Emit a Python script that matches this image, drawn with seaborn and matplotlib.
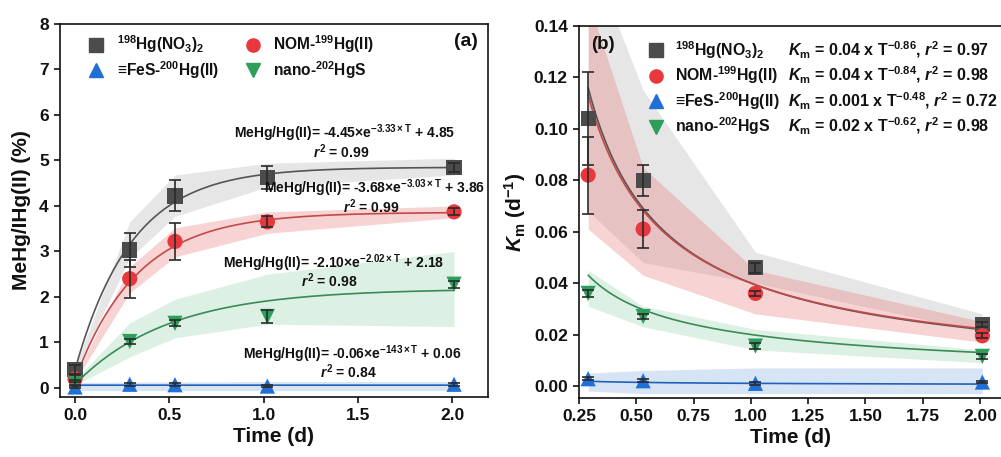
import numpy as np
import pandas as pd
import matplotlib
matplotlib.use("Agg")
import matplotlib.pyplot as plt
import seaborn as sns
from matplotlib.lines import Line2D

# ---------------- data ----------------
species = ["Hg(NO3)2", "NOM-Hg(II)", "FeS-Hg(II)", "nano-HgS"]
species_labels = [r"$^{198}$Hg(NO$_3$)$_2$", r"NOM-$^{199}$Hg(II)",
                  r"≡FeS-$^{200}$Hg(II)", r"nano-$^{202}$HgS"]

# (a) MeHg / IHg(II) ratio (%) versus time
time_a = [0.0, 0.29, 0.53, 1.02, 2.01]
ratio_hgno3 = [0.40, 3.03, 4.22, 4.63, 4.85]
ratio_nom = [0.20, 2.40, 3.22, 3.65, 3.87]
ratio_fes = [0.02, 0.08, 0.07, 0.04, 0.08]
ratio_nano = [0.12, 1.02, 1.42, 1.57, 2.28]
err_hgno3 = [0.10, 0.38, 0.34, 0.25, 0.10]
err_nom = [0.08, 0.42, 0.40, 0.12, 0.08]
err_fes = [0.02, 0.03, 0.03, 0.02, 0.03]
err_nano = [0.05, 0.06, 0.07, 0.15, 0.08]

# fitted first-order models: ratio = -A * exp(-k * T) + C
fit_a_A = [4.45, 3.68, 0.06, 2.10]
fit_a_k = [3.33, 3.03, 143.0, 2.02]
fit_a_C = [4.85, 3.86, 0.06, 2.18]
fit_a_r2 = [0.99, 0.99, 0.84, 0.98]

# 95% bands of the fits in (a), given at the sampling times
band_a_time = [0.0, 0.29, 0.53, 1.02, 2.01]
band_a_low = [[0.35, 2.85, 3.77, 4.42, 4.68],
              [0.15, 2.09, 2.88, 3.40, 3.74],
              [-0.06, -0.06, -0.06, -0.06, -0.06],
              [0.06, 0.68, 1.10, 1.40, 1.35]]
band_a_high = [[0.45, 3.65, 4.68, 4.94, 5.05],
               [0.25, 2.66, 3.52, 3.87, 4.00],
               [0.12, 0.13, 0.13, 0.14, 0.14],
               [0.18, 1.43, 1.95, 2.50, 3.00]]

# (b) methylation rate constant Km (d^-1) versus time
time_b = [0.29, 0.53, 1.02, 2.01]
km_hgno3 = [0.104, 0.080, 0.046, 0.024]
km_nom = [0.082, 0.061, 0.036, 0.0195]
km_fes = [0.0028, 0.0020, 0.0010, 0.0015]
km_nano = [0.036, 0.027, 0.0155, 0.0115]
kerr_hgno3 = [0.018, 0.006, 0.002, 0.001]
kerr_nom = [0.015, 0.0075, 0.001, 0.001]
kerr_fes = [0.0005, 0.0005, 0.0005, 0.0005]
kerr_nano = [0.0015, 0.001, 0.001, 0.001]

# power-law fits: Km = a * T^b
fit_b_a = [0.04, 0.04, 0.001, 0.02]
fit_b_b = [-0.86, -0.84, -0.48, -0.62]
fit_b_r2 = [0.97, 0.98, 0.72, 0.98]

band_b_low = [[0.068, 0.048, 0.040, 0.021],
              [0.061, 0.043, 0.028, 0.017],
              [-0.002, -0.003, -0.003, -0.003],
              [0.031, 0.023, 0.014, 0.009]]
band_b_high = [[0.170, 0.115, 0.052, 0.028],
               [0.150, 0.085, 0.045, 0.025],
               [0.005, 0.006, 0.007, 0.007],
               [0.045, 0.031, 0.022, 0.014]]

# ---------------- style ----------------
marker_colors = ["#4b4b4b", "#e8383d", "#1f6fd6", "#2e9e5b"]
line_colors = ["#555555", "#c24a4a", "#2062b8", "#3a8a58"]
band_colors = ["#a6a6a6", "#e87070", "#8fb3e3", "#8fd0a6"]
band_alpha = [0.28, 0.30, 0.35, 0.30]
markers = ["s", "o", "^", "v"]

sns.set_theme(style="ticks")
plt.rcParams.update({
    "font.family": ["Liberation Sans", "DejaVu Sans"],
    "font.weight": "bold",
    "axes.labelweight": "bold",
    "mathtext.fontset": "custom",
    "mathtext.rm": "Liberation Sans:bold",
    "mathtext.bf": "Liberation Sans:bold",
    "mathtext.it": "Liberation Sans:italic:bold",
    "mathtext.default": "regular",
    "axes.linewidth": 1.2,
    "xtick.major.width": 1.2,
    "ytick.major.width": 1.2,
    "xtick.major.size": 4.5,
    "ytick.major.size": 4.5,
    "xtick.labelsize": 12.5,
    "ytick.labelsize": 12.5,
    "axes.edgecolor": "#111111",
    "xtick.color": "#111111",
    "ytick.color": "#111111",
    "text.color": "#111111",
    "axes.labelcolor": "#111111",
})

fig = plt.figure(figsize=(10.01, 4.57), dpi=100)
ax1 = fig.add_axes([0.0599, 0.1313, 0.4276, 0.8162])
ax2 = fig.add_axes([0.5784, 0.1291, 0.4236, 0.8140])

# ---------------- panel (a) ----------------
rows = []
for name, vals, errs in zip(species,
                            [ratio_hgno3, ratio_nom, ratio_fes, ratio_nano],
                            [err_hgno3, err_nom, err_fes, err_nano]):
    for t, v, e in zip(time_a, vals, errs):
        rows.append({"species": name, "time": t, "value": v, "err": e})
df_a = pd.DataFrame(rows)

t_fine_a = np.linspace(0.0, 2.01, 300)
fit_rows = []
for name, A, k, C in zip(species, fit_a_A, fit_a_k, fit_a_C):
    for t in t_fine_a:
        fit_rows.append({"species": name, "time": t, "value": -A * np.exp(-k * t) + C})
df_fit_a = pd.DataFrame(fit_rows)

for i in range(4):
    ax1.fill_between(band_a_time, band_a_low[i], band_a_high[i],
                     color=band_colors[i], alpha=band_alpha[i], lw=0, zorder=1)

sns.lineplot(data=df_fit_a, x="time", y="value", hue="species",
             palette=dict(zip(species, line_colors)), hue_order=species,
             lw=1.2, legend=False, ax=ax1, zorder=2)
sns.scatterplot(data=df_a, x="time", y="value", hue="species", style="species",
                palette=dict(zip(species, marker_colors)), hue_order=species,
                markers=dict(zip(species, markers)), s=120, linewidth=0,
                legend=False, ax=ax1, zorder=3)
ax1.errorbar(df_a["time"], df_a["value"], yerr=df_a["err"], fmt="none",
             ecolor="#2a2a2a", elinewidth=1.2, capsize=4, capthick=1.2, zorder=4)

ax1.set_xlim(-0.08, 2.19)
ax1.set_ylim(-0.2, 8)
ax1.set_xticks([0.0, 0.5, 1.0, 1.5, 2.0])
ax1.set_xticklabels(["0.0", "0.5", "1.0", "1.5", "2.0"])
ax1.set_yticks(range(0, 9))
ax1.set_xlabel("Time (d)", fontsize=15, labelpad=3)
ax1.set_ylabel("MeHg/IHg(II) (%)", fontsize=15, labelpad=6)
for lab in ax1.get_xticklabels() + ax1.get_yticklabels():
    lab.set_fontweight("bold")

handles = [Line2D([], [], ls="none", marker=m, color=c, markersize=9.5)
           for m, c in zip(markers, marker_colors)]
order = [0, 2, 1, 3]
ax1.legend([handles[i] for i in order], [species_labels[i] for i in order],
           ncol=2, loc="upper left", bbox_to_anchor=(0.045, 1.0), frameon=False,
           fontsize=11.2, handlelength=1.0, handletextpad=0.8, columnspacing=1.7,
           labelspacing=0.25, borderaxespad=0.2)
ax1.text(0.977, 0.952, "(a)", transform=ax1.transAxes, ha="right", va="center",
         fontsize=14, fontweight="bold")

eq_pos = [(1.43, 5.60), (1.59, 4.39), (1.47, 0.75), (1.37, 2.75)]
for (x, y), A, k, C, r2 in zip(eq_pos, fit_a_A, fit_a_k, fit_a_C, fit_a_r2):
    k_txt = f"{k:.0f}" if k >= 100 else f"{k:.2f}"
    ax1.text(x, y, r"MeHg/Hg(II)= -%.2f$\times$e$^{-%s\times T}$ + %.2f" % (A, k_txt, C),
             ha="center", va="center", fontsize=10, fontweight="bold", zorder=5)
    ax1.text(x - 0.02, y - 0.40, r"$\mathit{r}^2$ = %.2f" % r2,
             ha="center", va="center", fontsize=10, fontweight="bold", zorder=5)

# ---------------- panel (b) ----------------
rows = []
for name, vals, errs in zip(species,
                            [km_hgno3, km_nom, km_fes, km_nano],
                            [kerr_hgno3, kerr_nom, kerr_fes, kerr_nano]):
    for t, v, e in zip(time_b, vals, errs):
        rows.append({"species": name, "time": t, "value": v, "err": e})
df_b = pd.DataFrame(rows)

t_fine_b = np.linspace(0.29, 2.01, 300)
fit_rows = []
for name, a, b in zip(species, fit_b_a, fit_b_b):
    for t in t_fine_b:
        fit_rows.append({"species": name, "time": t, "value": a * t ** b})
df_fit_b = pd.DataFrame(fit_rows)

for i in range(4):
    ax2.fill_between(time_b, band_b_low[i], band_b_high[i],
                     color=band_colors[i], alpha=band_alpha[i], lw=0, zorder=1)

sns.lineplot(data=df_fit_b, x="time", y="value", hue="species",
             palette=dict(zip(species, line_colors)), hue_order=species,
             lw=1.2, legend=False, ax=ax2, zorder=2)
sns.scatterplot(data=df_b, x="time", y="value", hue="species", style="species",
                palette=dict(zip(species, marker_colors)), hue_order=species,
                markers=dict(zip(species, markers)), s=120, linewidth=0,
                legend=False, ax=ax2, zorder=3)
ax2.errorbar(df_b["time"], df_b["value"], yerr=df_b["err"], fmt="none",
             ecolor="#2a2a2a", elinewidth=1.2, capsize=4, capthick=1.2, zorder=4)

ax2.set_xlim(0.25, 2.1)
ax2.set_ylim(-0.0047, 0.14)
ax2.set_xticks([0.25, 0.5, 0.75, 1.0, 1.25, 1.5, 1.75, 2.0])
ax2.set_xticklabels(["0.25", "0.50", "0.75", "1.00", "1.25", "1.50", "1.75", "2.00"])
ax2.set_yticks(np.arange(0, 0.141, 0.02))
ax2.set_yticklabels([f"{v:.2f}" for v in np.arange(0, 0.141, 0.02)])
ax2.set_xlabel("Time (d)", fontsize=15, labelpad=3)
ax2.set_ylabel(r"$\mathit{K}_{\rm m}$ (d$^{-1}$)", fontsize=15, labelpad=4)
for lab in ax2.get_xticklabels() + ax2.get_yticklabels():
    lab.set_fontweight("bold")

leg2 = ax2.legend(handles, species_labels, loc="upper left",
                  bbox_to_anchor=(0.14, 0.99), frameon=False, fontsize=11.4,
                  handlelength=1.0, handletextpad=0.7, labelspacing=0.24,
                  borderaxespad=0.2)
ax2.text(0.057, 0.949, "(b)", transform=ax2.transAxes, ha="center", va="center",
         fontsize=13.5, fontweight="bold")

# rate-law column, aligned to the legend rows
fig.canvas.draw()
renderer = fig.canvas.get_renderer()
inv = ax2.transAxes.inverted()
for txt, a, b, r2 in zip(leg2.get_texts(), fit_b_a, fit_b_b, fit_b_r2):
    bb = txt.get_window_extent(renderer)
    _, yc = inv.transform(((bb.x0 + bb.x1) / 2, (bb.y0 + bb.y1) / 2))
    a_txt = f"{a:.3f}" if a < 0.01 else f"{a:.2f}"
    ax2.text(0.494, yc,
             r"$\mathit{K}_{\rm m}$ = %s x T$^{%.2f}$, $\mathit{r}^2$ = %.2f" % (a_txt, b, r2),
             transform=ax2.transAxes, ha="left", va="center", fontsize=11.5,
             fontweight="bold")

ax2.spines["right"].set_visible(False)

fig.savefig("out.png", dpi=100)
